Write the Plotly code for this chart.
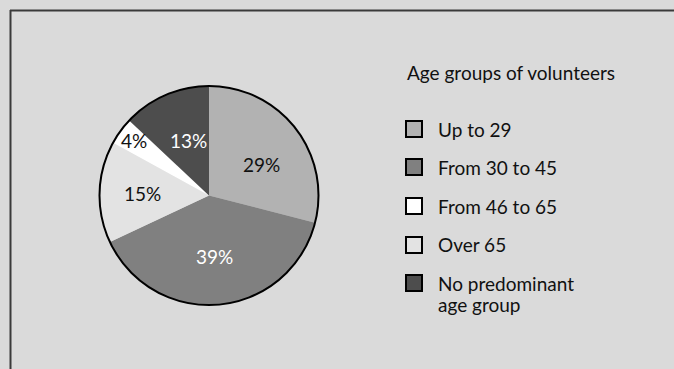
import math
import plotly.graph_objects as go

W, H = 674, 369

# ---- data ----
slice_labels = ["Up to 29", "From 30 to 45", "Over 65", "From 46 to 65", "No predominant age group"]
slice_values = [29, 39, 15, 4, 13]
slice_text = ["29%", "39%", "15%", "4%", "13%"]

legend_title = "Age groups of volunteers"
legend_labels = ["Up to 29", "From 30 to 45", "From 46 to 65", "Over 65", "No predominant", "age group"]

# ---- style ----
slice_colors = ["#b2b2b2", "#808080", "#e3e3e3", "#ffffff", "#4d4d4d"]
slice_text_colors = ["#111111", "#ffffff", "#111111", "#111111", "#ffffff"]
label_rfrac = [0.56, 0.56, 0.61, 0.85, 0.54]
label_dang = [7, 0, 0, 0, 3]
legend_colors = ["#b2b2b2", "#808080", "#ffffff", "#e3e3e3", "#4d4d4d"]
BG = "#dadada"
FONT = "Lato"
FS = 19

cx, cy, r = 209, 195.5, 109.5


def px(x):
    return x / W


def py(y):
    return 1 - y / H


fig = go.Figure()
fig.add_trace(go.Pie(
    labels=slice_labels,
    values=slice_values,
    sort=False,
    direction="clockwise",
    rotation=0,
    marker=dict(colors=slice_colors, line=dict(width=0)),
    textinfo="none",
    hoverinfo="label+percent",
    showlegend=False,
    domain=dict(x=[px(cx - r), px(cx + r)], y=[py(cy + r), py(cy - r)]),
))

annotations = []
shapes = []

# pie labels at computed angles
total = sum(slice_values)
cum = 0
for v, t, c, rf, da in zip(slice_values, slice_text, slice_text_colors, label_rfrac, label_dang):
    mid = (cum + v / 2) / total * 360 + da
    cum += v
    a = math.radians(mid)
    x = cx + rf * r * math.sin(a)
    y = cy - rf * r * math.cos(a)
    annotations.append(dict(x=px(x), y=py(y), xref="paper", yref="paper", text=t,
                            showarrow=False, xanchor="center", yanchor="middle",
                            font=dict(family=FONT, size=FS, color=c)))

# outer circle outline
shapes.append(dict(type="circle", xref="paper", yref="paper",
                   x0=px(cx - r), x1=px(cx + r), y0=py(cy + r), y1=py(cy - r),
                   line=dict(color="#000000", width=2), fillcolor="rgba(0,0,0,0)", layer="above"))

# legend
annotations.append(dict(x=px(405), y=py(73), xref="paper", yref="paper", text=legend_title,
                        showarrow=False, xanchor="left", yanchor="middle",
                        font=dict(family=FONT, size=FS, color="#111111")))
item_y = [129, 167, 206, 245, 283]
for i, col in enumerate(legend_colors):
    yc = item_y[i]
    shapes.append(dict(type="rect", xref="paper", yref="paper",
                       x0=px(406), x1=px(422), y0=py(yc + 8), y1=py(yc - 8),
                       line=dict(color="#000000", width=2), fillcolor=col))
for i, lab in enumerate(legend_labels):
    yc = item_y[i] if i < 5 else item_y[4] + 21
    annotations.append(dict(x=px(436), y=py(yc), xref="paper", yref="paper", text=lab,
                            showarrow=False, xanchor="left", yanchor="middle",
                            font=dict(family=FONT, size=FS, color="#111111")))

# frame
shapes.append(dict(type="line", xref="paper", yref="paper", x0=px(10.5), x1=px(10.5),
                   y0=py(10), y1=py(H + 5), line=dict(color="#3a3a3a", width=2)))
shapes.append(dict(type="line", xref="paper", yref="paper", x0=px(10), x1=px(W + 5),
                   y0=py(10.5), y1=py(10.5), line=dict(color="#3a3a3a", width=2)))

fig.update_layout(
    width=W, height=H,
    margin=dict(l=0, r=0, t=0, b=0),
    paper_bgcolor=BG, plot_bgcolor=BG,
    annotations=annotations, shapes=shapes,
    showlegend=False,
)

fig.write_html("out.html")
